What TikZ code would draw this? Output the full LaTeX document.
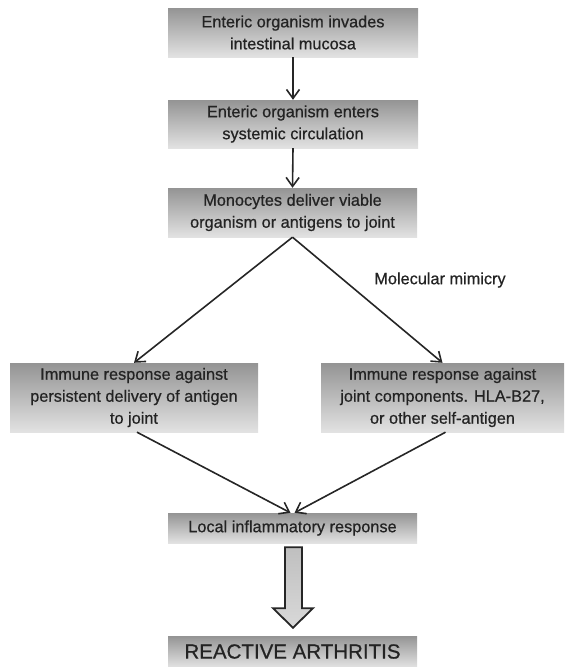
\documentclass[tikz,border=0pt]{standalone}
\usepackage{fontspec}
\setmainfont{Liberation Sans}[FakeBold=0.6]
\usetikzlibrary{arrows.meta,calc}
\definecolor{boxtop}{RGB}{148,148,148}
\definecolor{boxbot}{RGB}{226,226,226}
\definecolor{txt}{RGB}{35,35,35}
\begin{document}
\begin{tikzpicture}[x=1pt,y=-1pt,
  box/.style={shade, top color=boxtop, bottom color=boxbot, inner sep=0pt,
    align=center, text=txt, font=\fontsize{16.3}{22}\selectfont},
  conn/.style={line width=1.6pt, draw=black!85,
    -{Straight Barb[length=9pt,width=13pt,line width=1.6pt]}},
  blockarrow/.style={line width=1.8pt, draw=black!85, top color=gray!50, bottom color=gray!30, line join=miter}
]
\useasboundingbox (0,0) rectangle (565,667);

\node[box, minimum width=250pt, minimum height=49pt] (b1) at (293,32.5)
  {Enteric organism invades\\intestinal mucosa};
\node[box, minimum width=250pt, minimum height=48pt] (b2) at (293,124)
  {Enteric organism enters\\systemic circulation};
\node[box, minimum width=249pt, minimum height=49pt] (b3) at (292.5,212.5)
  {Monocytes deliver viable\\organism or antigens to joint};
\node[box, minimum width=248pt, minimum height=69pt] (left) at (134,397.5)
  {Immune response against\\persistent delivery of antigen\\to joint};
\node[box, minimum width=243pt, minimum height=69pt] (right) at (442.5,397.5)
  {Immune response against\\joint components. HLA-B27,\\or other self-antigen};
\node[box, minimum width=249pt, minimum height=30pt] (local) at (292.5,528)
  {Local inflammatory response};
\node[box, minimum width=249pt, minimum height=31pt, font=\fontsize{20.5}{24}\selectfont] (ra) at (292.5,651.5)
  {REACTIVE ARTHRITIS};
\node[text=txt, font=\fontsize{16.3}{22}\selectfont] (mm) at (440,280) {Molecular mimicry};

\draw[conn] (b1.south) -- (b2.north);
\draw[conn] (b2.south) -- (b3.north);
\draw[conn] (b3.south) -- (left.north);
\draw[conn] (b3.south) -- (right.north);
\draw[conn] ([xshift=3pt]left.south) -- ([xshift=-2pt]local.north);
\draw[conn] ([xshift=3pt]right.south) -- ([xshift=2pt]local.north);

\draw[blockarrow]
  ($(local.south)+(-7.5,4)$) -- ($(local.south)+(9.5,4)$) --
  ($(local.south)+(9.5,65)$) -- ($(local.south)+(20.5,65)$) --
  ($(ra.north)+(0.5,-8)$) --
  ($(local.south)+(-19.5,65)$) -- ($(local.south)+(-7.5,65)$) -- cycle;
\end{tikzpicture}
\end{document}
